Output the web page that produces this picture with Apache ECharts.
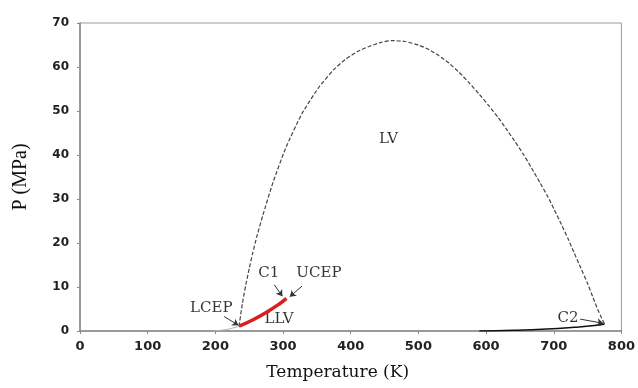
<!DOCTYPE html>
<html>
<head>
<meta charset="utf-8">
<script src="https://cdn.jsdelivr.net/npm/echarts@6/dist/echarts.min.js"></script>
<style>
  html, body { margin: 0; padding: 0; background: #fff; }
  #myChart { width: 638px; height: 388px; }
</style>
</head>
<body>
<div id="myChart"></div>
<script>
// phase envelope, [T (K), P (MPa)]
var envelope = [[235, 1.1], [240, 6.3], [245, 10.5], [250, 14.2], [255, 17.6], [262, 21.9], [270, 26.2],
  [285, 33.7], [304, 41.6], [328, 49.4], [353, 55.4], [375, 59.4], [392, 61.7], [410, 63.5],
  [426, 64.6], [445, 65.6], [461, 66.0], [480, 65.8], [500, 65.0], [515, 64.0], [530, 62.6],
  [545, 60.9], [560, 58.8], [575, 56.4], [590, 53.8], [604, 51.2], [618, 48.5], [630, 45.9],
  [642, 43.2], [655, 40.2], [667, 37.1], [680, 33.6], [691, 30.6], [701, 27.5], [711, 24.3],
  [721, 21.0], [730, 17.8], [740, 14.3], [750, 10.8], [758, 7.6], [765, 4.9], [770, 3.2], [775, 1.6]]
var llvLine = [[235, 1.1], [255, 2.5], [275, 4.2], [295, 6.2], [305, 7.4]]
var c2Line = [[590, 0], [640, 0.15], [690, 0.45], [730, 0.85], [760, 1.25], [775, 1.6]]
var lcepLine = [[195, 0], [215, 0.3], [235, 1.1]]
// text labels [T, P, text]
var labels = [[456, 43.6, 'LV'], [294, 2.6, 'LLV'], [279, 13.1, 'C1'], [353, 13.1, 'UCEP'],
  [194, 5.2, 'LCEP'], [721, 2.9, 'C2']]
// arrows [from, to]
var arrows = [[[287, 10.5], [299, 7.9]], [[328, 10.2], [310, 7.8]],
  [[213, 3.3], [234, 1.3]], [[739, 2.7], [773, 1.75]]]

var xTicks = { min: 0, max: 800, interval: 100 }
var yTicks = { min: 0, max: 70, interval: 10 }

var myChart = echarts.init(document.getElementById('myChart'))
var axisColor = '#8a8a8a'

var option = {
  animation: false,
  grid: {
    left: 80, right: 16, top: 23, bottom: 57,
    show: true, borderColor: '#9a9a9a', borderWidth: 1
  },
  xAxis: {
    type: 'value',
    min: xTicks.min, max: xTicks.max, interval: xTicks.interval,
    name: 'Temperature (K)',
    nameLocation: 'middle',
    nameGap: 33,
    nameTextStyle: { fontFamily: 'DejaVu Serif', fontSize: 17, color: '#111', padding: [0, 26, 0, 0] },
    axisLine: { onZero: false, lineStyle: { color: axisColor, width: 1.5 } },
    axisTick: { show: true, length: 3, lineStyle: { color: axisColor } },
    axisLabel: { margin: 9, fontFamily: 'DejaVu Sans', fontWeight: 'bold', fontSize: 13, color: '#222' },
    splitLine: { show: false }
  },
  yAxis: {
    type: 'value',
    min: yTicks.min, max: yTicks.max, interval: yTicks.interval,
    name: 'P (MPa)',
    nameLocation: 'middle',
    nameGap: 49,
    nameTextStyle: { fontFamily: 'Liberation Serif', fontSize: 20, color: '#111' },
    axisLine: { show: true, lineStyle: { color: axisColor, width: 1.5 } },
    axisTick: { show: true, length: 3, lineStyle: { color: axisColor } },
    axisLabel: { margin: 11, fontFamily: 'DejaVu Sans', fontWeight: 'bold', fontSize: 12, color: '#222' },
    splitLine: { show: false }
  },
  series: [
    {
      type: 'line',
      data: envelope,
      smooth: 0.2,
      symbol: 'none',
      lineStyle: { color: '#444', width: 1.2, type: [4, 2] }
    },
    {
      type: 'line',
      data: lcepLine,
      smooth: true,
      symbol: 'none',
      lineStyle: { color: '#b0b0b0', width: 1 }
    },
    {
      type: 'line',
      data: c2Line,
      smooth: true,
      symbol: 'none',
      lineStyle: { color: '#111', width: 1.5 }
    },
    {
      type: 'line',
      data: llvLine,
      smooth: true,
      symbol: 'none',
      lineStyle: { color: '#d81e1e', width: 3.5 },
      markLine: {
        silent: true,
        symbol: ['none', 'arrow'],
        symbolSize: 6,
        label: { show: false },
        lineStyle: { color: '#333', width: 1, type: 'solid' },
        data: arrows.map(function (a) {
          return [{ coord: a[0] }, { coord: a[1] }]
        })
      }
    },
    {
      type: 'scatter',
      data: labels,
      symbolSize: 0,
      label: {
        show: true,
        position: 'inside',
        formatter: function (p) { return p.data[2] },
        fontFamily: 'DejaVu Serif',
        fontSize: 15,
        color: '#000'
      }
    }
  ]
}
myChart.setOption(option, true)
</script>
</body>
</html>
